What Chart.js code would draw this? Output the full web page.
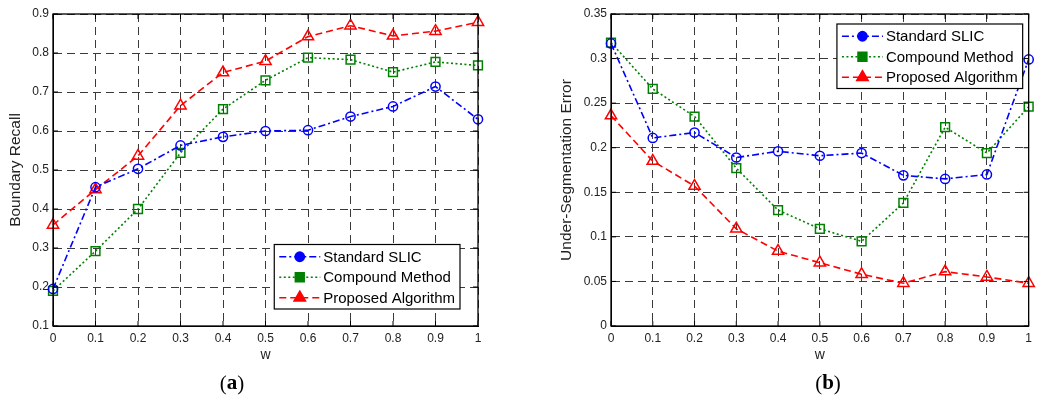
<!DOCTYPE html>
<html>
<head>
<meta charset="utf-8">
<script src="https://cdn.jsdelivr.net/npm/chart.js@4.4.1/dist/chart.umd.min.js"></script>
<style>
  html, body { margin: 0; padding: 0; background: #fff; }
  #wrap { position: relative; width: 1037px; height: 403px; }
  .panel { position: absolute; top: 0; height: 403px; }
</style>
</head>
<body>
<div id="wrap">
  <div class="panel" style="left:0;width:518px"><canvas id="chartA"></canvas></div>
  <div class="panel" style="left:518px;width:519px"><canvas id="chartB"></canvas></div>
</div>
<script>
// data
const wLabels = ['0', '0.1', '0.2', '0.3', '0.4', '0.5', '0.6', '0.7', '0.8', '0.9', '1'];
const seriesNames = ['Standard SLIC', 'Compound Method', 'Proposed Algorithm'];

// (a) boundary recall
const recallSlic     = [0.195, 0.456, 0.503, 0.563, 0.585, 0.600, 0.602, 0.637, 0.663, 0.714, 0.630];
const recallCompound = [0.190, 0.292, 0.400, 0.544, 0.656, 0.730, 0.788, 0.783, 0.751, 0.777, 0.768];
const recallProposed = [0.359, 0.450, 0.536, 0.665, 0.750, 0.779, 0.842, 0.870, 0.844, 0.856, 0.879];

// (b) under-segmentation error
const useSlic     = [0.317, 0.211, 0.217, 0.189, 0.196, 0.191, 0.194, 0.169, 0.165, 0.170, 0.299];
const useCompound = [0.318, 0.266, 0.235, 0.177, 0.130, 0.109, 0.095, 0.138, 0.223, 0.194, 0.246];
const useProposed = [0.236, 0.185, 0.157, 0.109, 0.084, 0.071, 0.058, 0.048, 0.061, 0.055, 0.048];

const FONT = '"Liberation Sans", Arial, sans-serif';
const SERIF = '"Liberation Serif", "DejaVu Serif", serif';

// MATLAB-ish line styles
const styles = [
  { color: '#0000ff', dash: [7, 3, 2, 3], point: 'circle',   r: 4.6 },
  { color: '#008000', dash: [2, 2.5],     point: 'rect',     r: 6.2 },
  { color: '#ff0000', dash: [7, 4],       point: 'triangle', r: 6.5 }
];

function makeDatasets(rows) {
  return rows.map((vals, i) => ({
    label: seriesNames[i],
    data: vals,
    borderColor: styles[i].color,
    backgroundColor: 'rgba(0,0,0,0)',
    borderWidth: 1.6,
    borderDash: styles[i].dash,
    pointStyle: styles[i].point,
    pointRadius: styles[i].r,
    pointBorderWidth: 1.5,
    pointBorderColor: styles[i].color,
    pointBackgroundColor: 'rgba(0,0,0,0)',
    tension: 0
  }));
}

// solid frame around the plot area + inward ticks
const frameBox = {
  id: 'frameBox',
  afterDatasetsDraw(chart) {
    const a = chart.chartArea, ctx = chart.ctx;
    const xs = chart.scales.x, ys = chart.scales.y;
    ctx.save();
    ctx.strokeStyle = '#000';
    ctx.lineWidth = 1;
    ctx.setLineDash([]);
    ctx.beginPath();
    xs.ticks.forEach((t, i) => {
      const px = xs.getPixelForTick(i);
      ctx.moveTo(px, a.bottom); ctx.lineTo(px, a.bottom - 5);
      ctx.moveTo(px, a.top); ctx.lineTo(px, a.top + 5);
    });
    ys.ticks.forEach(t => {
      const py = ys.getPixelForValue(t.value);
      ctx.moveTo(a.left, py); ctx.lineTo(a.left + 5, py);
      ctx.moveTo(a.right, py); ctx.lineTo(a.right - 5, py);
    });
    ctx.stroke();
    ctx.lineWidth = 1.3;
    ctx.strokeRect(a.left, a.top, a.right - a.left, a.bottom - a.top);
    ctx.restore();
  }
};

// legend drawn inside the axes, like matlab
const boxLegend = {
  id: 'boxLegend',
  afterDraw(chart, args, opts) {
    const ctx = chart.ctx, a = chart.chartArea;
    const sets = chart.data.datasets;
    ctx.save();
    ctx.font = '15px ' + FONT;
    const rowH = 20.5, sampleW = 41;
    const textW = Math.max(...sets.map(d => ctx.measureText(d.label).width));
    const w = 5 + sampleW + 3 + textW + 5;
    const h = rowH * sets.length + 3;
    const x0 = a.right - opts.right - w;
    const y0 = opts.top != null ? a.top + opts.top : a.bottom - opts.bottom - h;
    ctx.fillStyle = '#fff';
    ctx.fillRect(x0, y0, w, h);
    ctx.strokeStyle = '#000';
    ctx.lineWidth = 1.2;
    ctx.strokeRect(x0, y0, w, h);
    sets.forEach((d, i) => {
      const cy = y0 + 2 + rowH * (i + 0.5);
      const sx = x0 + 5;
      ctx.strokeStyle = d.borderColor;
      ctx.lineWidth = 1.6;
      ctx.setLineDash(d.borderDash);
      ctx.beginPath();
      ctx.moveTo(sx, cy);
      ctx.lineTo(sx + sampleW, cy);
      ctx.stroke();
      ctx.setLineDash([]);
      ctx.fillStyle = d.borderColor;
      Chart.helpers.drawPoint(ctx, {
        pointStyle: d.pointStyle, radius: d.pointRadius, rotation: 0, borderWidth: 1.5
      }, sx + sampleW / 2, cy);
      ctx.fillStyle = '#000';
      ctx.textBaseline = 'middle';
      ctx.textAlign = 'left';
      ctx.fillText(d.label, sx + sampleW + 3, cy + 1);
    });
    ctx.restore();
  }
};

// "(a)" style panel label: regular parens, bold letter
const panelLabel = {
  id: 'panelLabel',
  afterDraw(chart, args, opts) {
    const ctx = chart.ctx;
    ctx.save();
    ctx.fillStyle = '#000';
    ctx.textBaseline = 'middle';
    ctx.textAlign = 'left';
    const reg = '21px ' + SERIF, bold = 'bold 21px ' + SERIF;
    ctx.font = reg; const wp = ctx.measureText('(').width, wq = ctx.measureText(')').width;
    ctx.font = bold; const wl = ctx.measureText(opts.letter).width;
    let x = opts.x - (wp + wl + wq) / 2;
    const y = opts.y;
    ctx.font = reg; ctx.fillText('(', x, y); x += wp;
    ctx.font = bold; ctx.fillText(opts.letter, x, y); x += wl;
    ctx.font = reg; ctx.fillText(')', x, y);
    ctx.restore();
  }
};

function tickFmt(v) {
  return String(parseFloat(v.toFixed(2)));
}

function makeChart(id, rows, yTitle, yMin, yMax, yStep, cfg) {
  return new Chart(document.getElementById(id), {
    type: 'line',
    data: { labels: wLabels, datasets: makeDatasets(rows) },
    plugins: [frameBox, boxLegend, panelLabel],
    options: {
      responsive: true,
      maintainAspectRatio: false,
      animation: false,
      layout: { padding: { top: 14, right: cfg.padRight, left: 0, bottom: 38 } },
      plugins: {
        legend: { display: false },
        tooltip: { enabled: false },
        title: { display: false },
        boxLegend: cfg.legend,
        panelLabel: cfg.panel
      },
      scales: {
        x: {
          type: 'category',
          offset: false,
          afterFit(s) { s.height = 39; },
          grid: { color: '#3a3a3a', lineWidth: 1, drawTicks: false, offset: false },
          border: { display: true, color: '#000', dash: [8, 5] },
          ticks: { color: '#222', font: { family: FONT, size: 12 }, padding: 5, maxRotation: 0, autoSkip: false },
          title: { display: true, text: 'w', color: '#222', font: { family: FONT, size: 14 }, padding: { top: 0, bottom: 1 } }
        },
        y: {
          min: yMin,
          max: yMax,
          afterFit(s) { s.width = cfg.yWidth; },
          grid: { color: '#3a3a3a', lineWidth: 1, drawTicks: false },
          border: { display: true, color: '#000', dash: [8, 5] },
          ticks: { stepSize: yStep, color: '#222', font: { family: FONT, size: 12 }, padding: 4, callback: tickFmt },
          title: { display: true, text: yTitle, color: '#222', font: { family: FONT, size: 15.5 }, padding: { top: cfg.yTitlePad, bottom: 0 } }
        }
      }
    }
  });
}

makeChart('chartA', [recallSlic, recallCompound, recallProposed], 'Boundary Recall',
  0.1, 0.9, 0.1,
  { padRight: 40, yWidth: 53, yTitlePad: 6, legend: { right: 18, bottom: 17 }, panel: { letter: 'a', x: 232, y: 384 } });

makeChart('chartB', [useSlic, useCompound, useProposed], 'Under-Segmentation Error',
  0, 0.35, 0.05,
  { padRight: 4, yWidth: 93, yTitlePad: 39, legend: { right: 6, top: 10 }, panel: { letter: 'b', x: 310, y: 384 } });
</script>
</body>
</html>
